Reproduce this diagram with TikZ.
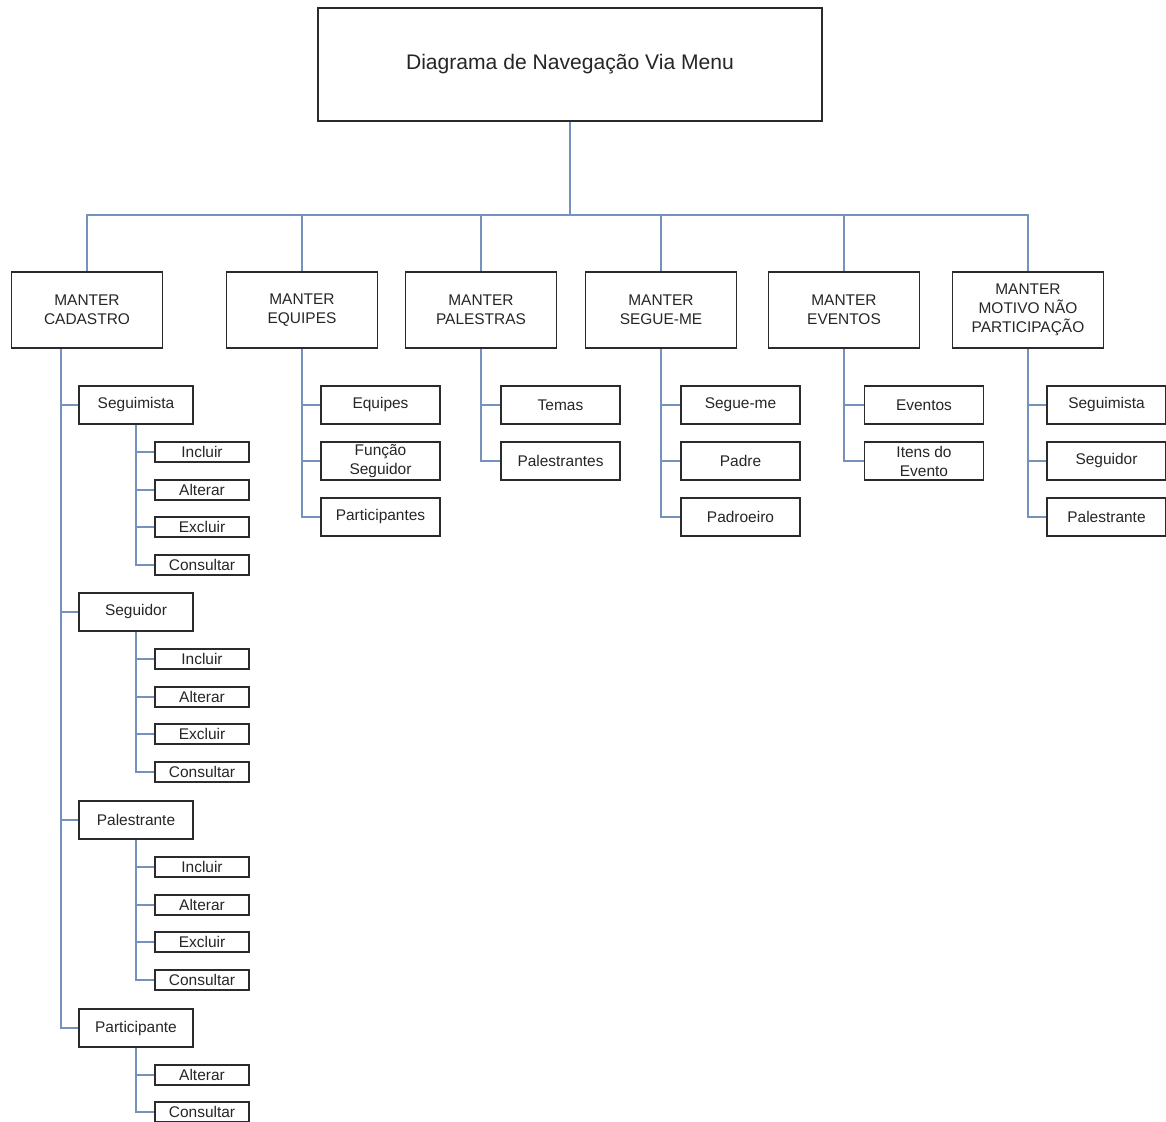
\documentclass[tikz,border=0pt]{standalone}
\usepackage{fontspec}
\setmainfont{Liberation Sans}
\usepackage{xcolor}
\usetikzlibrary{calc}
\definecolor{azul_linha}{HTML}{7592BF}
\definecolor{cinza_borda}{HTML}{2B2B2B}

\begin{document}
\begin{tikzpicture}[x=0.025cm,y=-0.025cm,
    caixa/.style={draw=cinza_borda,line width=1.3pt,fill=white,text=black!85,align=center,inner sep=1pt,font=\fontsize{11}{13.5}\selectfont},
    titulo/.style={caixa,minimum width=12.6cm,minimum height=2.825cm,font=\fontsize{15}{18}\selectfont},
    nivel/.style={caixa,minimum width=3.775cm,minimum height=1.9cm},
    item/.style={caixa,minimum width=2.975cm,minimum height=0.95cm},
    opcao/.style={caixa,minimum width=2.85cm,minimum height=0.95cm},
    acao/.style={caixa,minimum width=2.35cm,minimum height=0.5cm},
    linha/.style={draw=azul_linha,line width=1.3pt}]

        % Fixar o tamanho da figura
        \useasboundingbox (0,0) rectangle (1166,1122);

        % Caixa do titulo e barra horizontal
        \node[titulo] (tit) at (570,64.5) {Diagrama de Navegação Via Menu};
        \coordinate (barra) at (570,215);

        % Menus principais
        \node[nivel] (cadastro) at (87,310) {MANTER\\CADASTRO};
        \node[nivel] (equipes) at (302,310) {MANTER\\EQUIPES};
        \node[nivel] (palestras) at (481,310) {MANTER\\PALESTRAS};
        \node[nivel] (segueme) at (661,310) {MANTER\\SEGUE-ME};
        \node[nivel] (eventos) at (844,310) {MANTER\\EVENTOS};
        \node[nivel] (motivo) at (1028,310) {MANTER\\MOTIVO NÃO\\PARTICIPAÇÃO};

        % Ligar o titulo aos menus
        \draw[linha] (tit.south) -- (barra);
        \foreach \m in {cadastro,equipes,palestras,segueme,eventos,motivo}
            \draw[linha] (barra) -| (\m.north);

        % Itens de MANTER EQUIPES
        \node[item] (eqEquipes) at (380.5,405) {Equipes};
        \node[item] (eqFuncao) at (380.5,461) {Função\\Seguidor};
        \node[item] (eqPart) at (380.5,517) {Participantes};
        \draw[linha] (equipes.south) |- (eqEquipes.west);
        \draw[linha] (equipes.south) |- (eqFuncao.west);
        \draw[linha] (equipes.south) |- (eqPart.west);

        % Itens de MANTER PALESTRAS
        \node[item] (paTemas) at (560.5,405) {Temas};
        \node[item] (paPalest) at (560.5,461) {Palestrantes};
        \draw[linha] (palestras.south) |- (paTemas.west);
        \draw[linha] (palestras.south) |- (paPalest.west);

        % Itens de MANTER SEGUE-ME
        \node[item] (smSegue) at (740.5,405) {Segue-me};
        \node[item] (smPadre) at (740.5,461) {Padre};
        \node[item] (smPadroeiro) at (740.5,517) {Padroeiro};
        \draw[linha] (segueme.south) |- (smSegue.west);
        \draw[linha] (segueme.south) |- (smPadre.west);
        \draw[linha] (segueme.south) |- (smPadroeiro.west);

        % Itens de MANTER EVENTOS
        \node[item] (evEventos) at (924,405) {Eventos};
        \node[item] (evItens) at (924,461) {Itens do\\Evento};
        \draw[linha] (eventos.south) |- (evEventos.west);
        \draw[linha] (eventos.south) |- (evItens.west);

        % Itens de MANTER MOTIVO NAO PARTICIPACAO
        \node[item] (moSeguimista) at (1106.5,405) {Seguimista};
        \node[item] (moSeguidor) at (1106.5,461) {Seguidor};
        \node[item] (moPalestrante) at (1106.5,517) {Palestrante};
        \draw[linha] (motivo.south) |- (moSeguimista.west);
        \draw[linha] (motivo.south) |- (moSeguidor.west);
        \draw[linha] (motivo.south) |- (moPalestrante.west);

        % Opcoes de MANTER CADASTRO, cada uma com as suas acoes
        \coordinate (cad) at (61,0 |- cadastro.south);
        \foreach \nome/\y/\n in {Seguimista/405/1,Seguidor/612/2,Palestrante/820/3} {
            \node[opcao] (op\n) at (136,\y) {\nome};
            \node[acao] (inc\n) at (202,\y+47) {Incluir};
            \node[acao] (alt\n) at (202,\y+85) {Alterar};
            \node[acao] (exc\n) at (202,\y+122) {Excluir};
            \node[acao] (con\n) at (202,\y+160) {Consultar};
            \draw[linha] (cad) |- (op\n.west);
            \draw[linha] (op\n.south) |- (inc\n.west);
            \draw[linha] (op\n.south) |- (alt\n.west);
            \draw[linha] (op\n.south) |- (exc\n.west);
            \draw[linha] (op\n.south) |- (con\n.west);
        }

        % Participante tem so duas acoes
        \node[opcao] (op4) at (136,1028) {Participante};
        \node[acao] (alt4) at (202,1075) {Alterar};
        \node[acao] (con4) at (202,1112) {Consultar};
        \draw[linha] (cad) |- (op4.west);
        \draw[linha] (op4.south) |- (alt4.west);
        \draw[linha] (op4.south) |- (con4.west);
    \end{tikzpicture}
\end{document}
